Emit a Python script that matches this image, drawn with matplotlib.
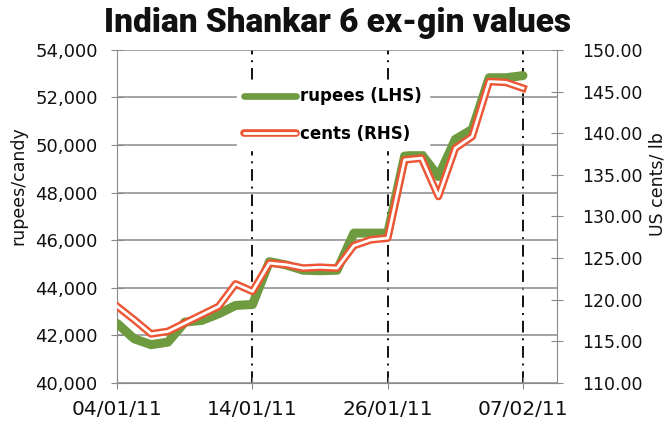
import matplotlib

matplotlib.use("Agg")
import matplotlib.pyplot as plt
from matplotlib.lines import Line2D
from matplotlib.legend_handler import HandlerTuple
from matplotlib.ticker import FuncFormatter, MultipleLocator

# Trading days, 04/01/11 .. 07/02/11 (category axis)
dates = [
    "04/01/11", "05/01/11", "06/01/11", "07/01/11", "10/01/11", "11/01/11",
    "12/01/11", "13/01/11", "14/01/11", "17/01/11", "18/01/11", "19/01/11",
    "20/01/11", "21/01/11", "24/01/11", "25/01/11", "26/01/11", "27/01/11",
    "28/01/11", "31/01/11", "01/02/11", "02/02/11", "03/02/11", "04/02/11",
    "07/02/11",
]
rupees = [
    42500, 41860, 41610, 41720, 42560, 42630, 42910, 43260, 43300,
    45100, 44960, 44740, 44720, 44740, 46300, 46300, 46300,
    49540, 49610, 48680, 50240, 50660, 52830, 52830, 52920,
]
cents = [
    119.2, 117.6, 115.9, 116.2, 117.2, 118.2, 119.2, 121.9, 121.0,
    124.4, 124.2, 123.8, 123.9, 123.8, 126.5, 127.2, 127.4,
    136.8, 137.0, 132.4, 138.2, 139.6, 146.2, 146.1, 145.4,
]
tick_idx = [0, 8, 16, 24]

GREEN = "#6E9A40"
RED = "#EC5634"
INK = "#111111"
GRID = "#8A8A8A"

fig = plt.figure(figsize=(6.70, 4.34), dpi=100, facecolor="white")
ax = fig.add_axes([0.175, 0.1175, 0.656, 0.7675])
ax2 = ax.twinx()
ax.set_zorder(ax2.get_zorder() + 1)
ax.patch.set_visible(False)

x = list(range(len(dates)))

# vertical dash-dot markers + horizontal gridlines
for i in tick_idx[1:]:
    ax.axvline(i, color=INK, lw=1.4, ls=(0, (6, 3, 1, 3)), zorder=1)
ax.set_ylim(40000, 54000)
ax.yaxis.set_major_locator(MultipleLocator(2000))
ax.grid(axis="y", color=GRID, lw=1.1, zorder=0)
ax2.set_ylim(110, 150)
ax2.yaxis.set_major_locator(MultipleLocator(5))

ax.plot(x, rupees, color=GREEN, lw=6.5, solid_capstyle="round",
        solid_joinstyle="round", zorder=3)
# cents use the right-hand scale, but are drawn on the main axes so they sit on top
ax.plot(x, cents, color=RED, lw=5.5, transform=ax2.transData, zorder=4)
ax.plot(x, cents, color="white", lw=2.0, transform=ax2.transData, zorder=5)

ax.set_xlim(0, 26)
ax.set_xticks(tick_idx)
ax.set_xticklabels([dates[i] for i in tick_idx])
ax.yaxis.set_major_formatter(FuncFormatter(lambda v, p: f"{v:,.0f}"))
ax2.yaxis.set_major_formatter(FuncFormatter(lambda v, p: f"{v:.2f}"))

for a in (ax, ax2):
    for s in a.spines.values():
        s.set_visible(False)
ax.spines["left"].set_visible(True)
ax.spines["bottom"].set_visible(True)
ax2.spines["right"].set_visible(True)
ax.spines["left"].set_color(GRID)
ax.spines["bottom"].set_color(GRID)
ax2.spines["right"].set_color(GRID)

ax.tick_params(axis="y", direction="inout", length=8, color=GRID,
               labelsize=13, labelcolor=INK, pad=10)
ax.tick_params(axis="x", direction="inout", length=8, color=GRID,
               labelsize=14.5, labelcolor=INK, pad=8)
ax2.tick_params(axis="y", direction="inout", length=8, color=GRID,
                labelsize=12.5, labelcolor=INK, pad=14)

fig.text(18 / 670, 1 - 186 / 434, "rupees/candy", rotation=90, fontsize=12.5,
         color=INK, ha="center", va="center")
fig.text(657 / 670, 1 - 184 / 434, "US cents/ lb", rotation=90, fontsize=12.5,
         color=INK, ha="center", va="center")

fig.text(338 / 670, 1 - 23 / 434, "Indian Shankar 6 ex-gin values", fontsize=24,
         weight="heavy", family=["Roboto", "DejaVu Sans"], color=INK,
         ha="center", va="center")

h_rupees = Line2D([], [], color=GREEN, lw=4.8, solid_capstyle="round")
h_cents = (Line2D([], [], color=RED, lw=5.5, solid_capstyle="round"),
           Line2D([], [], color="white", lw=2.0, solid_capstyle="round"))
leg = ax.legend(
    [h_rupees, h_cents], ["rupees (LHS)", "cents (RHS)"],
    handler_map={tuple: HandlerTuple(ndivide=1, pad=0)},
    loc="upper left", bbox_to_anchor=(0.272, 0.91),
    prop={"size": 12, "weight": "bold"}, handlelength=3.1, handletextpad=0.25,
    labelspacing=1.15, borderpad=0.45, borderaxespad=0.0,
    frameon=True, fancybox=False,
    facecolor="white", edgecolor="white", framealpha=1.0,
)
leg.set_zorder(10)

fig.savefig("out.png", dpi=100, facecolor="white")
